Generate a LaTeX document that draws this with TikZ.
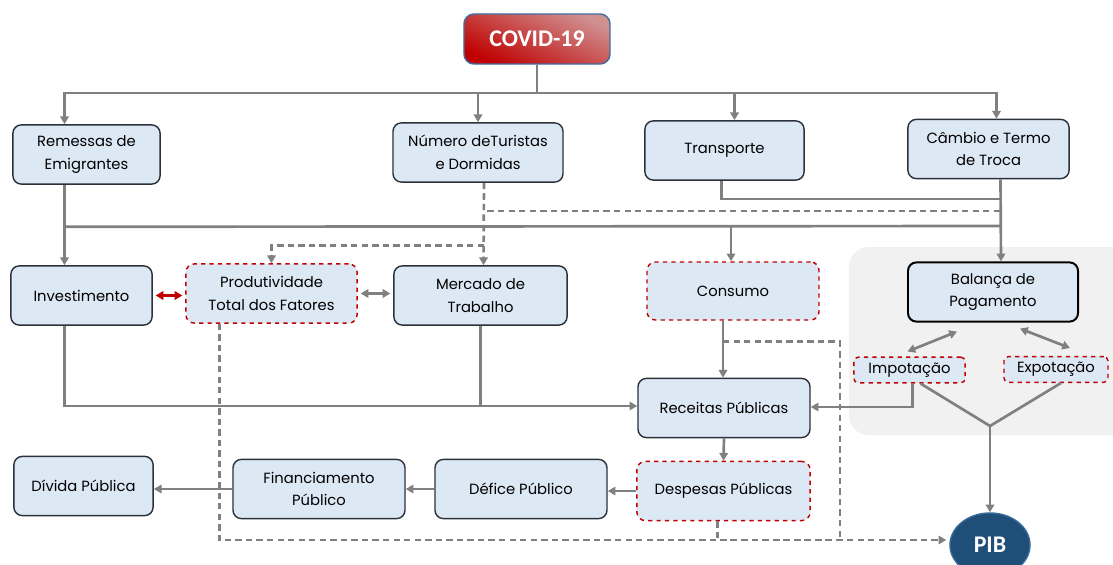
\documentclass[tikz,border=0pt]{standalone}
\usepackage{fontspec}
\setmainfont{Poppins}
\newfontfamily\headfont{Carlito}
\usetikzlibrary{shapes.geometric, positioning, arrows.meta, calc}
\definecolor{boxfill}{HTML}{DDE8F5}
\definecolor{boxedge}{HTML}{2B323C}
\definecolor{linegray}{HTML}{808080}
\definecolor{darkred}{HTML}{C00000}
\definecolor{covidlight}{HTML}{D09090}
\definecolor{covidedge}{HTML}{3F6FA5}
\definecolor{pibblue}{HTML}{1F4E79}
\definecolor{pibedge}{HTML}{3A6A9A}
\definecolor{panelgray}{HTML}{F1F1F1}
\tikzset{
  box/.style={rectangle, rounded corners=6pt, minimum width=4.3cm, minimum height=1.48cm, text centered, align=center, draw=boxedge, fill=boxfill, line width=1pt},
  redbox/.style={box, draw=darkred, dashed},
  tradebox/.style={redbox, rounded corners=3pt, minimum height=0.64cm, inner sep=1pt},
  covidbox/.style={rectangle, rounded corners=7pt, minimum width=3.65cm, minimum height=1.25cm, draw=covidedge, line width=1pt, top color=covidlight, bottom color=darkred, shading angle=-25, text=white, font=\headfont\bfseries\fontsize{17}{20}\selectfont},
  pibnode/.style={ellipse, minimum width=2cm, minimum height=1.6cm, draw=pibedge, fill=pibblue, line width=1pt, text=white, font=\headfont\bfseries\fontsize{17}{20}\selectfont},
  link/.style={line width=1.9pt, draw=linegray},
  arrow/.style={link, -{Triangle[length=5.5pt,width=6pt]}},
  dlink/.style={link, dash pattern=on 4.5pt off 3pt},
  darrow/.style={dlink, -{Triangle[length=5.5pt,width=6pt]}},
  biarrow/.style={link, {Triangle[length=5.5pt,width=6pt]}-{Triangle[length=5.5pt,width=6pt]}, shorten <=2pt, shorten >=2pt},
  redarrow/.style={biarrow, draw=darkred}
}

\begin{document}
\begin{tikzpicture}[x=0.025cm, y=-0.025cm, font=\fontsize{10.5}{16}\selectfont]
  \useasboundingbox (0,0) rectangle (1113,565);
  % fundo da balanca de pagamento
  \fill [panelgray, rounded corners=14pt] (849,247) rectangle (1135,435);

  \node (covid) [covidbox] at (537,39) {COVID-19};
  \node (remessas) [box, minimum width=3.68cm] at (86.5,154.5) {Remessas de\\Emigrantes};
  \node (numero) [box, minimum width=4.25cm] at (478,152.5) {Número deTuristas\\e Dormidas};
  \node (transporte) [box, minimum width=3.98cm] at (724.5,150.5) {Transporte};
  \node (cambio) [box, minimum width=4.03cm] at (988.5,149) {Câmbio e Termo\\de Troca};

  \node (investimento) [box, minimum width=3.53cm] at (81.5,295.5) {Investimento};
  \node (produtividade) [redbox, minimum width=4.28cm] at (271.5,293.5) {Produtividade\\Total dos Fatores};
  \node (mercado) [box, minimum width=4.33cm] at (480.5,295.5) {Mercado de\\Trabalho};
  \node (consumo) [redbox, minimum height=1.45cm] at (733,291) {Consumo};
  \node (balanca) [box, minimum width=4.25cm, draw=black, line width=1.4pt] at (993,292) {Balança de\\Pagamento};
  \node (impotacao) [tradebox, minimum width=2.78cm] at (909.5,370) {Impotação};
  \node (expotacao) [tradebox, minimum width=2.6cm] at (1056,369.5) {Expotação};

  \node (receitas) [box] at (724,408) {Receitas Públicas};
  \node (despesas) [redbox, minimum width=4.33cm] at (723.5,491) {Despesas Públicas};
  \node (defice) [box] at (521,489) {Défice Público};
  \node (financiamento) [box] at (319,489) {Financiamento\\Público};
  \node (divida) [box, minimum width=3.48cm] at (83.5,486) {Dívida Pública};
  \node (pib) [pibnode] at (990,545) {PIB};

  \coordinate (hub) at (537,93);
  \coordinate (jT) at (1001,199);
  \coordinate (jD) at (1001,211);
  \coordinate (jS) at (1001,226);
  \coordinate (jP) at (840,540);
  \coordinate (fork) at (990,426);

  % 1. choque inicial
  \draw [link] (covid) -- (hub);
  \draw [arrow] (hub) -| ($(remessas.north)+(-22,0)$);
  \draw [arrow] (hub) -| (numero.north);
  \draw [arrow] (hub) -| ($(transporte.north)+(10,0)$);
  \draw [arrow] (hub) -| ($(cambio.north)+(8,0)$);

  % 2. canais de transmissao
  \draw [link] ($(transporte.south)+(-3,0)$) |- (jT);
  \draw [arrow] ($(cambio.south)+(12,0)$) -- ($(balanca.north)+(8,0)$);
  \draw [dlink] ($(numero.south)+(6,0)$) |- (jD);
  \draw [darrow] ($(numero.south)+(6,0)$) -- ($(mercado.north)+(3,0)$);
  \draw [darrow] ($(numero.south)+(6,63)$) -| (produtividade.north);
  \draw [arrow] ($(remessas.south)+(-22,0)$) -- ($(investimento.north)+(-17,0)$);
  \draw [link] ($(remessas.south)+(-22,42)$) -- (jS);
  \draw [arrow] ($(consumo.north)+(-2,0)$) ++(0,-36) -- ($(consumo.north)+(-2,0)$);

  \draw [redarrow] (investimento.east) -- (investimento.east -| produtividade.west);
  \draw [biarrow] (produtividade.east) -- (produtividade.east -| mercado.west);

  % 3. contas publicas
  \draw [arrow] ($(investimento.south)+(-17,0)$) |- ($(receitas.west)+(0,-2)$);
  \draw [link] (mercado.south) -- ($(mercado.south |- receitas.west)+(0,-2)$);
  \draw [arrow] ($(consumo.south)+(-10,0)$) -- ($(receitas.north)+(-1,0)$);
  \draw [arrow] (receitas.south) -- (despesas.north);
  \draw [arrow] (despesas.west) -- (despesas.west -| defice.east);
  \draw [arrow] (defice.west) -- (financiamento.east);
  \draw [arrow] (financiamento.west) -- (financiamento.west -| divida.east);
  \draw [arrow] ($(impotacao.south)+(3,0)$) |- ($(receitas.east)+(0,-1)$);

  % 4. efeitos no PIB
  \draw [darrow] ($(produtividade.south)+(-52,0)$) |- ($(pib.west)+(-3,-5)$);
  \draw [dlink] ($(consumo.south)+(-10,21)$) -| (jP);
  \draw [dlink] ($(despesas.south)+(-6,0)$) |- (jP);
  \draw [biarrow, shorten <=0pt, shorten >=0pt] ($(balanca.south)+(-36,9)$) -- ($(impotacao.north)+(-2,-5)$);
  \draw [biarrow, shorten <=0pt, shorten >=0pt] ($(balanca.south)+(27,6)$) -- ($(expotacao.north)+(14,-8)$);
  \draw [link] ($(impotacao.south)+(11,0)$) -- (fork) -- ($(expotacao.south)+(5,0)$);
  \draw [arrow] (fork) -- (pib.north);
\end{tikzpicture}
\end{document}
